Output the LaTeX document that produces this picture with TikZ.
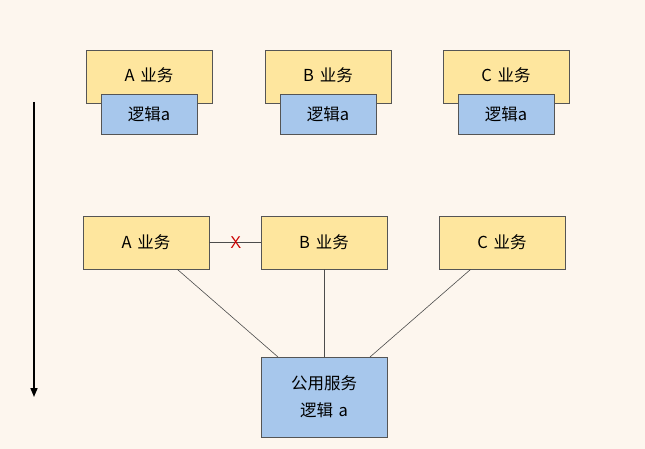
\documentclass[tikz,border=0pt]{standalone}
\usepackage{fontspec}
\setmainfont{Noto Sans CJK SC}
\usetikzlibrary{arrows.meta}
\definecolor{bg}{HTML}{FDF6EE}
\definecolor{ybox}{HTML}{FEE69E}
\definecolor{bbox}{HTML}{A7C7EC}
\definecolor{edge}{HTML}{555555}
\newcommand{\gp}{\ \hspace{2pt}}
\begin{document}
\begin{tikzpicture}[x=1pt,y=-1pt,
  txt/.style={font=\fontsize{16.5}{19}\selectfont},
  biz/.style={draw=edge,fill=ybox,line width=0.8pt,minimum width=126pt,minimum height=53pt,inner sep=0pt,txt},
  logic/.style={draw=edge,fill=bbox,line width=0.8pt,minimum width=96pt,minimum height=40pt,inner sep=0pt,txt},
  svc/.style={draw=edge,fill=bbox,line width=0.8pt,minimum width=126pt,minimum height=80pt,inner sep=0pt,align=center,font=\fontsize{16.5}{27}\selectfont},
  link/.style={draw=black!70,line width=0.6pt}]
\fill[bg] (0,0) rectangle (645,449);
\useasboundingbox (0,0) rectangle (645,449);
% top row
\node[biz] (ta) at (149,76.5) {};
\node[txt,anchor=center] (tat) at (149,75) {A\gp 业务};
\node[logic] (tal) at (149,114) {逻辑a};
\node[biz] (tb) at (328,76.5) {};
\node[txt,anchor=center] (tbt) at (328,75) {B\gp 业务};
\node[logic] (tbl) at (328,114) {逻辑a};
\node[biz] (tc) at (506,76.5) {};
\node[txt,anchor=center] (tct) at (506,75) {C\gp 业务};
\node[logic] (tcl) at (506,114) {逻辑a};
% middle row
\node[biz] (ma) at (146,242.5) {A\gp 业务};
\node[biz] (mb) at (324,242.5) {B\gp 业务};
\node[biz] (mc) at (502,242.5) {C\gp 业务};
% service
\node[svc] (s) at (324,397) {公用服务\\逻辑\gp a};
% links
\draw[link] (ma.east) -- (mb.west);
\node[text=red!80!black,font=\fontsize{17}{18}\selectfont\sffamily,inner sep=0pt] (x) at (236,242.5) {X};
\coordinate (s1) at (278,357);
\coordinate (s3) at (370,357);
\draw[link] (ma.south east) ++(-32,0) coordinate (a1) -- (s1);
\draw[link] (mb.south) -- (s.north);
\draw[link] (mc.south west) ++(32,0) coordinate (c1) -- (s3);
% arrow
\coordinate (ar1) at (34,102);
\coordinate (ar2) at (34,397);
\draw[line width=1.6pt,-{Triangle[length=9pt,width=7pt]}] (ar1) -- (ar2);
\end{tikzpicture}
\end{document}
